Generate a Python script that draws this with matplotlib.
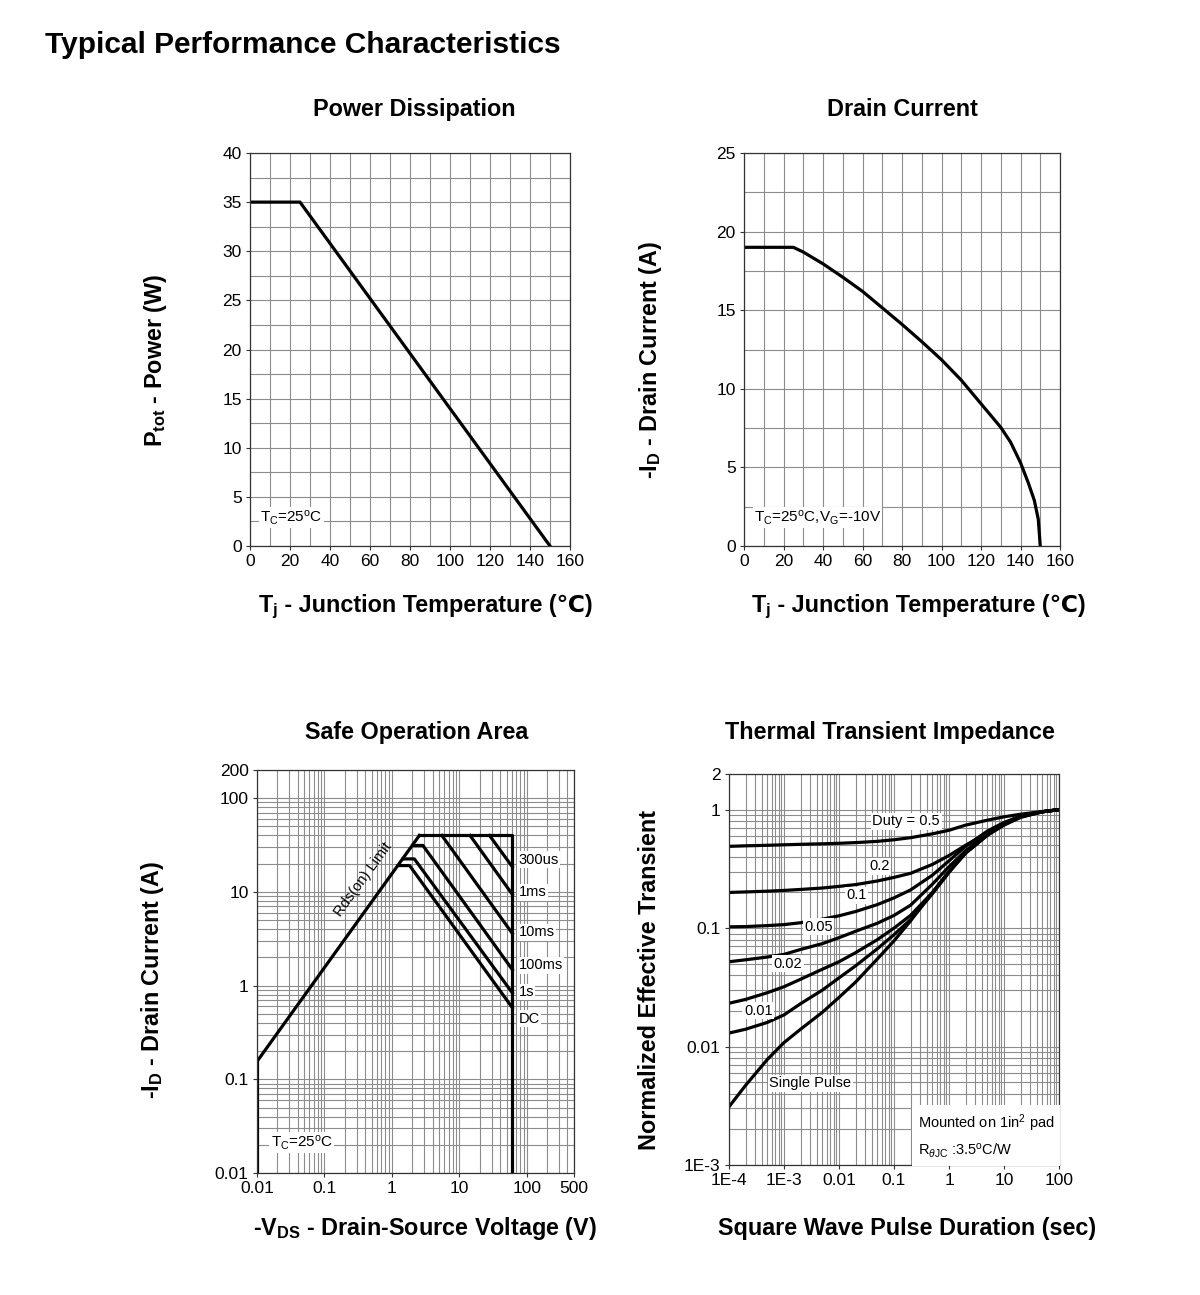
import matplotlib
matplotlib.use('Agg')
import matplotlib.pyplot as plt
from matplotlib.ticker import FixedLocator, MultipleLocator, NullFormatter
from matplotlib.offsetbox import TextArea, HPacker, AnchoredOffsetbox

W, H = 1200, 1295

# power dissipation (top left)
pd_temp = [0, 25, 150]
pd_power = [35, 35, 0]

# drain current (top right)
id_temp = [0, 25, 30, 40, 50, 60, 70, 80, 90, 100, 110, 120, 130, 135, 140, 144, 147, 149, 150]
id_current = [19, 19, 18.7, 17.95, 17.1, 16.2, 15.15, 14.1, 13.0, 11.85, 10.55, 9.05, 7.55, 6.6,
              5.3, 4.0, 2.9, 1.7, 0]

# safe operation area (bottom left), volts / amps
soa_rds_v = [0.01, 2.55]
soa_rds_i = [0.155, 40]
soa_limit_v = [2.55, 61, 61]
soa_limit_i = [40, 40, 0.01]
soa_left_v = [0.01, 0.01]
soa_left_i = [0.155, 0.01]
soa_300us_v = [28, 61]
soa_300us_i = [40, 18.5]
soa_1ms_v = [14.4, 61]
soa_1ms_i = [40, 9.4]
soa_10ms_v = [5.5, 61]
soa_10ms_i = [40, 3.6]
soa_100ms_v = [2.03, 2.88, 61]
soa_100ms_i = [31.3, 31.3, 1.48]
soa_1s_v = [1.46, 2.15, 61]
soa_1s_i = [22.5, 22.5, 0.835]
soa_dc_v = [1.24, 1.83, 61]
soa_dc_i = [19.1, 19.1, 0.58]
soa_names = ['300us', '1ms', '10ms', '100ms', '1s', 'DC']
soa_label_i = [22.1, 9.9, 3.7, 1.65, 0.855, 0.445]

# thermal transient impedance (bottom right)
zth_t = [1e-4, 2e-4, 5e-4, 1e-3, 2e-3, 5e-3, 0.01, 0.02, 0.05, 0.1, 0.2, 0.5, 1, 2, 5, 10, 20, 50, 100]
zth_d05 = [0.49, 0.495, 0.50, 0.505, 0.51, 0.515, 0.52, 0.527, 0.54, 0.557, 0.58, 0.625, 0.67,
           0.74, 0.815, 0.87, 0.915, 0.965, 1.0]
zth_d02 = [0.200, 0.202, 0.205, 0.208, 0.212, 0.218, 0.225, 0.233, 0.25, 0.268, 0.29, 0.345, 0.41,
           0.50, 0.64, 0.76, 0.885, 0.96, 1.0]
zth_d01 = [0.1025, 0.103, 0.105, 0.107, 0.111, 0.119, 0.127, 0.138, 0.158, 0.18, 0.21, 0.28, 0.37,
           0.49, 0.66, 0.78, 0.88, 0.96, 1.0]
zth_d005 = [0.052, 0.054, 0.057, 0.06, 0.066, 0.074, 0.083, 0.094, 0.11, 0.128, 0.156, 0.235, 0.33,
            0.45, 0.63, 0.77, 0.88, 0.96, 1.0]
zth_d002 = [0.0232, 0.025, 0.0285, 0.032, 0.037, 0.045, 0.052, 0.062, 0.08, 0.10, 0.128, 0.20, 0.30,
            0.43, 0.61, 0.75, 0.87, 0.96, 1.0]
zth_d001 = [0.013, 0.014, 0.016, 0.0185, 0.023, 0.03, 0.038, 0.048, 0.067, 0.088, 0.118, 0.195, 0.295,
            0.43, 0.61, 0.75, 0.87, 0.96, 1.0]
zth_single = [0.0031, 0.0047, 0.0078, 0.0108, 0.014, 0.0195, 0.026, 0.035, 0.055, 0.078, 0.115, 0.20,
              0.30, 0.43, 0.61, 0.74, 0.86, 0.96, 1.0]
zth_labels = ['Duty = 0.5', '0.2', '0.1', '0.05', '0.02', '0.01', 'Single Pulse']
zth_label_t = [0.167, 0.054, 0.021, 0.0042, 0.00118, 3.4e-4, 0.003]
zth_label_z = [0.80, 0.333, 0.19, 0.103, 0.05, 0.02, 0.0049]

plt.rcParams['font.family'] = ['Liberation Sans', 'DejaVu Sans']
plt.rcParams['mathtext.fontset'] = 'custom'
plt.rcParams['mathtext.rm'] = 'Liberation Sans'
plt.rcParams['mathtext.it'] = 'Liberation Sans:italic'
plt.rcParams['mathtext.bf'] = 'Liberation Sans:bold'

GRID = '#8c8c8c'
LW = 2.3
TICK_FS = 12.5
LABEL_FS = 16.8
NOTE_FS = 10.5
BOX = dict(facecolor='white', edgecolor='none', pad=1.0)

fig = plt.figure(figsize=(W / 100, H / 100), dpi=100)


def add_axes_px(left, top, right, bottom):
    return fig.add_axes([left / W, 1 - bottom / H, (right - left) / W, (bottom - top) / H])


def style_axes(ax):
    ax.grid(which='both', color=GRID, linewidth=0.8)
    ax.set_axisbelow(True)
    for sp in ax.spines.values():
        sp.set_color('#333333')
        sp.set_linewidth(0.9)
    ax.tick_params(which='major', length=3, width=0.8, color='#333333', labelsize=TICK_FS, pad=3)
    ax.tick_params(which='minor', length=0)


def fig_text(x, y, s, **kw):
    fig.text(x / W, 1 - y / H, s, **kw)


def temp_label(x, y):
    # mathtext has no fallback for the celsius sign, so pack two pieces
    part_a = TextArea(r'$\mathbf{T_j}$', textprops=dict(fontsize=LABEL_FS))
    part_b = TextArea(' - Junction Temperature (℃)', textprops=dict(fontsize=LABEL_FS, fontweight='bold'))
    pack = HPacker(children=[part_a, part_b], align='baseline', pad=0, sep=0)
    box = AnchoredOffsetbox(loc='center', child=pack, frameon=False, pad=0, borderpad=0,
                            bbox_to_anchor=(x / W, 1 - y / H), bbox_transform=fig.transFigure)
    fig.add_artist(box)


fig_text(45, 53, 'Typical Performance Characteristics', fontsize=21.5, fontweight='bold',
         ha='left', va='baseline')

# --- Power dissipation
ax1 = add_axes_px(250, 153, 570, 546)
ax1.plot(pd_temp, pd_power, color='black', lw=LW, solid_joinstyle='miter')
ax1.set_xlim(0, 160)
ax1.set_ylim(0, 40)
ax1.xaxis.set_major_locator(MultipleLocator(20))
ax1.xaxis.set_minor_locator(MultipleLocator(10))
ax1.yaxis.set_major_locator(MultipleLocator(5))
ax1.yaxis.set_minor_locator(MultipleLocator(2.5))
style_axes(ax1)
ax1.text(5, 2.9, r'T$_\mathrm{C}$=25$^\mathrm{o}$C', fontsize=11, va='center', bbox=BOX)
fig_text(414, 116, 'Power Dissipation', fontsize=LABEL_FS, fontweight='bold', ha='center', va='baseline')
temp_label(425, 607)
fig_text(155, 360, r'$\mathbf{P_{tot}}$ - Power (W)', fontsize=LABEL_FS, fontweight='bold',
         ha='center', va='center', rotation=90)

# --- Drain current
ax2 = add_axes_px(744, 153, 1060, 546)
ax2.plot(id_temp, id_current, color='black', lw=LW)
ax2.set_xlim(0, 160)
ax2.set_ylim(0, 25)
ax2.xaxis.set_major_locator(MultipleLocator(20))
ax2.xaxis.set_minor_locator(MultipleLocator(10))
ax2.yaxis.set_major_locator(MultipleLocator(5))
ax2.yaxis.set_minor_locator(MultipleLocator(2.5))
style_axes(ax2)
ax2.text(5, 1.8, r'T$_\mathrm{C}$=25$^\mathrm{o}$C,V$_\mathrm{G}$=-10V', fontsize=11, va='center', bbox=BOX)
fig_text(902, 116, 'Drain Current', fontsize=LABEL_FS, fontweight='bold', ha='center', va='baseline')
temp_label(918, 607)
fig_text(651, 360, r'-$\mathbf{I_D}$ - Drain Current (A)', fontsize=LABEL_FS, fontweight='bold',
         ha='center', va='center', rotation=90)

# --- Safe operation area
ax3 = add_axes_px(257, 770, 574, 1173)
ax3.set_xscale('log')
ax3.set_yscale('log')
soa_lines = [(soa_rds_v, soa_rds_i), (soa_limit_v, soa_limit_i), (soa_left_v, soa_left_i),
             (soa_300us_v, soa_300us_i), (soa_1ms_v, soa_1ms_i), (soa_10ms_v, soa_10ms_i),
             (soa_100ms_v, soa_100ms_i), (soa_1s_v, soa_1s_i), (soa_dc_v, soa_dc_i)]
for v, i in soa_lines:
    ax3.plot(v, i, color='black', lw=LW, solid_capstyle='projecting')
ax3.set_xlim(0.01, 500)
ax3.set_ylim(0.01, 200)
x_minor = [m * 10.0 ** e for e in range(-2, 3) for m in range(2, 10)]
ax3.xaxis.set_major_locator(FixedLocator([0.01, 0.1, 1, 10, 100, 500]))
ax3.xaxis.set_minor_locator(FixedLocator(x_minor))
ax3.xaxis.set_minor_formatter(NullFormatter())
ax3.set_xticklabels(['0.01', '0.1', '1', '10', '100', '500'])
ax3.yaxis.set_major_locator(FixedLocator([0.01, 0.1, 1, 10, 100, 200]))
ax3.yaxis.set_minor_locator(FixedLocator(x_minor))
ax3.yaxis.set_minor_formatter(NullFormatter())
ax3.set_yticklabels(['0.01', '0.1', '1', '10', '100', '200'])
style_axes(ax3)
for name, y in zip(soa_names, soa_label_i):
    ax3.text(75, y, name, fontsize=NOTE_FS, va='center', ha='left', bbox=BOX)
ax3.text(0.37, 13.6, 'Rds(on) Limit', fontsize=NOTE_FS, rotation=54, ha='center', va='center')
ax3.text(0.016, 0.021, r'T$_\mathrm{C}$=25$^\mathrm{o}$C', fontsize=11, va='center', bbox=BOX)
fig_text(417, 739, 'Safe Operation Area', fontsize=LABEL_FS, fontweight='bold', ha='center', va='baseline')
fig_text(425, 1229, r'-$\mathbf{V_{DS}}$ - Drain-Source Voltage (V)', fontsize=LABEL_FS, fontweight='bold',
         ha='center', va='center')
fig_text(153, 980, r'-$\mathbf{I_D}$ - Drain Current (A)', fontsize=LABEL_FS, fontweight='bold',
         ha='center', va='center', rotation=90)

# --- Thermal transient impedance
ax4 = add_axes_px(729, 774, 1059, 1165)
ax4.set_xscale('log')
ax4.set_yscale('log')
for z in [zth_d05, zth_d02, zth_d01, zth_d005, zth_d002, zth_d001, zth_single]:
    ax4.plot(zth_t, z, color='black', lw=LW)
ax4.set_xlim(1e-4, 100)
ax4.set_ylim(1e-3, 2)
t_minor = [m * 10.0 ** e for e in range(-4, 2) for m in range(2, 10)]
z_minor = [m * 10.0 ** e for e in range(-3, 0) for m in range(2, 10)]
ax4.xaxis.set_major_locator(FixedLocator([1e-4, 1e-3, 0.01, 0.1, 1, 10, 100]))
ax4.xaxis.set_minor_locator(FixedLocator(t_minor))
ax4.xaxis.set_minor_formatter(NullFormatter())
ax4.set_xticklabels(['1E-4', '1E-3', '0.01', '0.1', '1', '10', '100'])
ax4.yaxis.set_major_locator(FixedLocator([1e-3, 0.01, 0.1, 1, 2]))
ax4.yaxis.set_minor_locator(FixedLocator(z_minor))
ax4.yaxis.set_minor_formatter(NullFormatter())
ax4.set_yticklabels(['1E-3', '0.01', '0.1', '1', '2'])
style_axes(ax4)
for name, t, z in zip(zth_labels, zth_label_t, zth_label_z):
    ax4.text(t, z, name, fontsize=NOTE_FS, ha='center', va='center', bbox=BOX)
ax4.text(0.27, 0.00175, 'Mounted on 1in$^2$ pad\nR$_{\\theta\\mathrm{JC}}$ :3.5$^\\mathrm{o}$C/W',
         fontsize=NOTE_FS, ha='left', va='center', linespacing=1.6,
         bbox=dict(facecolor='white', edgecolor='none', pad=4))
fig_text(890, 739, 'Thermal Transient Impedance', fontsize=LABEL_FS, fontweight='bold', ha='center', va='baseline')
fig_text(907, 1229, 'Square Wave Pulse Duration (sec)', fontsize=LABEL_FS, fontweight='bold',
         ha='center', va='center')
fig_text(650, 980, 'Normalized Effective Transient', fontsize=LABEL_FS, fontweight='bold',
         ha='center', va='center', rotation=90)

fig.savefig('out.png', dpi=100)
